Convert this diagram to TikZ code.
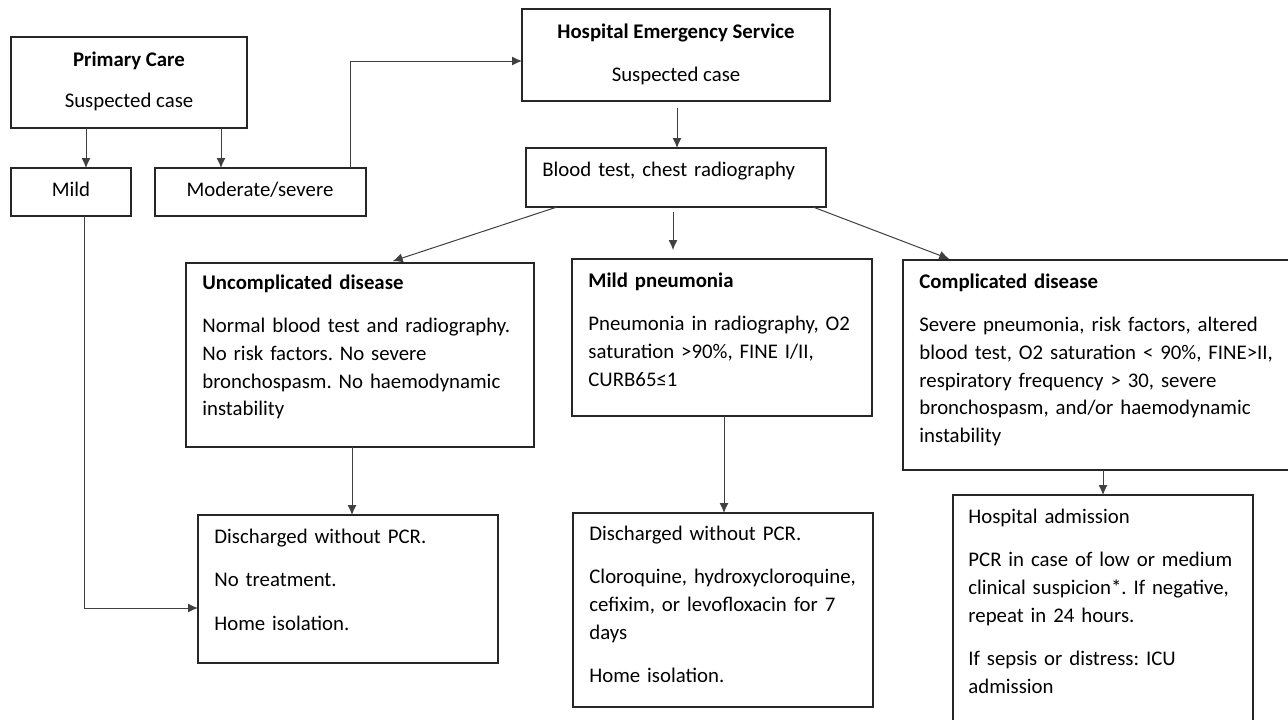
\documentclass[tikz,border=0pt]{standalone}
\usepackage{fontspec}
\setmainfont{Carlito}
\usetikzlibrary{arrows.meta,calc}
\tikzset{
  box/.style={draw=black!85, line width=0.75pt, anchor=north west, inner sep=0pt, outer sep=0pt},
  txt/.style={anchor=base west, inner sep=0pt, align=left, text width=190pt, font=\fontsize{10.4}{13.85}\selectfont\frenchspacing},
  ctxt/.style={anchor=base, inner sep=0pt, align=center, font=\fontsize{10.4}{13.85}\selectfont\frenchspacing},
  arr/.style={draw=black!75, line width=0.5pt, -{Latex[length=5pt,width=4.5pt]}},
  ln/.style={draw=black!75, line width=0.5pt}
}
\newcommand{\bx}[5]{\node[box, minimum width=#4*0.5pt-#2*0.5pt, minimum height=#5*0.5pt-#3*0.5pt] (#1) at (#2,#3) {};}
\begin{document}
\begin{tikzpicture}[x=0.5pt,y=-0.5pt]
\useasboundingbox[fill=white] (0,0) rectangle (1288,719);
% boxes
\bx{pc}{11}{37}{247}{128}
\bx{mild}{11}{168}{131}{216}
\bx{mod}{155}{168}{366}{216}
\bx{hosp}{522}{9}{830}{101}
\bx{blood}{526}{148}{826}{207}
\bx{unc}{186}{263}{534}{447}
\bx{mp}{572}{259}{872}{416}
\bx{comp}{903}{260}{1295}{470}
\bx{bA}{198}{515}{498}{663}
\bx{bB}{573}{513}{873}{707}
\bx{bC}{953}{495}{1253}{730}
% texts
\node[ctxt] (tpc1) at (129,66) {\bfseries Primary Care};
\node[ctxt] (tpc2) at (129,107) {Suspected case};
\node[ctxt] (th1) at (676,38) {\bfseries Hospital Emergency Service};
\node[ctxt] (th2) at (676,81) {Suspected case};
\node[ctxt] (tmild) at (71,196) {Mild};
\node[ctxt] (tmod) at (260,196) {Moderate/severe};
\node[txt] (tblood) at (542,176) {Blood test, chest radiography};
\node[txt] (tunc) at (202,289) {{\bfseries Uncomplicated disease}\\[8pt]
Normal blood test and radiography.\\
No risk factors. No severe\\
bronchospasm. No haemodynamic\\
instability};
\node[txt] (tmp) at (588,287) {{\bfseries Mild pneumonia}\\[8pt]
Pneumonia in radiography, O2\\
saturation >90\%, FINE I/II,\\
CURB65≤1};
\node[txt] (tcomp) at (919,288) {{\bfseries Complicated disease}\\[8pt]
Severe pneumonia, risk factors, altered\\
blood test, O2 saturation < 90\%, FINE>II,\\
respiratory frequency > 30, severe\\
bronchospasm, and/or haemodynamic\\
instability};
\node[txt] (tbA) at (214,543) {Discharged without PCR.\\[8pt]
No treatment.\\[8pt]
Home isolation.};
\node[txt] (tbB) at (589,540) {Discharged without PCR.\\[8pt]
Cloroquine, hydroxycloroquine,\\
cefixim, or levofloxacin for 7\\
days\\[8pt]
Home isolation.};
\node[txt] (tbC) at (968,523) {Hospital admission\\[8pt]
PCR in case of low or medium\\
clinical suspicion*. If negative,\\
repeat in 24 hours.\\[8pt]
If sepsis or distress: ICU\\
admission};
% connectors
\draw[arr] (86,0 |- pc.south) -- (86,0 |- mild.north);
\draw[arr] (221,0 |- pc.south) -- (221,0 |- mod.north);
\draw[arr] (350,0 |- mod.north) |- (hosp.west |- 0,61);
\draw[arr, shorten <=3.5pt] (677,0 |- hosp.south) -- (677,0 |- blood.north);
\draw[arr, shorten >=3pt] (557,0 |- blood.south) -- (387,0 |- unc.north);
\draw[arr, shorten <=2.5pt, shorten >=4.5pt] (673,0 |- blood.south) -- (673,0 |- mp.north);
\draw[arr, shorten >=1.5pt] (813,0 |- blood.south) -- (952,0 |- comp.north);
\draw[arr] (352,0 |- unc.south) -- (352,0 |- bA.north);
\draw[arr] (724,0 |- mp.south) -- (724,0 |- bB.north);
\draw[arr] (1103,0 |- comp.south) -- (1103,0 |- bC.north);
\draw[arr] (84,0 |- mild.south) |- (bA.west |- 0,608);
\end{tikzpicture}
\end{document}
